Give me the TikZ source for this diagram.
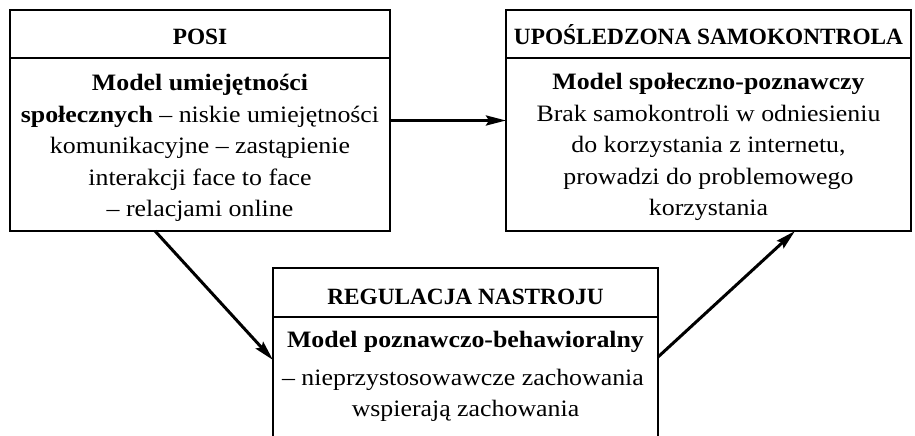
\documentclass[tikz,border=0pt]{standalone}
\usepackage{fontspec}
\setmainfont{Liberation Serif}
\newfontfamily\bodyfont{Liberation Serif}[FakeStretch=1.10]
\usetikzlibrary{arrows.meta,calc}
\begin{document}
\begin{tikzpicture}[x=1bp,y=-1bp,
  box/.style={draw, line width=2.8bp, inner sep=0pt, outer sep=0pt},
  rule/.style={line width=2.6bp},
  titletext/.style={anchor=base, inner sep=0pt, font=\fontsize{23.3bp}{27bp}\selectfont\bfseries},
  bodytext/.style={anchor=base, inner sep=0pt, font=\bodyfont\fontsize{23.5bp}{27bp}\selectfont},
  conn/.style={line width=3bp, -{Stealth[length=20bp,width=10bp,inset=3bp]}}]
\useasboundingbox (0,0) rectangle (915,436);
\clip (0,0) rectangle (915,436);

% boxes
\node[box, minimum width=380bp, minimum height=221bp] (posi) at (200,120.5) {};
\node[box, minimum width=405bp, minimum height=221bp] (usc) at (708.5,120.5) {};
\node[box, minimum width=385bp, minimum height=202bp] (reg) at (465.5,369) {};

% dividers
\draw[rule] (posi.west |- 0,58) -- (posi.east |- 0,58);
\draw[rule] (usc.west |- 0,58) -- (usc.east |- 0,58);
\draw[rule] (reg.west |- 0,317) -- (reg.east |- 0,317);

% titles
\node[titletext] (t1) at (200,45) {POSI};
\node[titletext] (t2) at (708.5,45) {UPOŚLEDZONA SAMOKONTROLA};
\node[titletext] (t3) at (465.5,305) {REGULACJA NASTROJU};

% left body
\node[bodytext] (a1) at (200,91) {\textbf{Model umiejętności}};
\node[bodytext] (a2) at (200,122.5) {\textbf{społecznych} – niskie umiejętności};
\node[bodytext] (a3) at (200,154) {komunikacyjne – zastąpienie};
\node[bodytext] (a4) at (200,185.5) {interakcji face to face};
\node[bodytext] (a5) at (200,217) {– relacjami online};

% right body
\node[bodytext] (b1) at (708.5,90) {\textbf{Model społeczno-poznawczy}};
\node[bodytext] (b2) at (708.5,121.5) {Brak samokontroli w odniesieniu};
\node[bodytext] (b3) at (708.5,153) {do korzystania z internetu,};
\node[bodytext] (b4) at (708.5,184.5) {prowadzi do problemowego};
\node[bodytext] (b5) at (708.5,216) {korzystania};

% bottom body
\node[bodytext] (c1) at (465.5,348) {\textbf{Model poznawczo-behawioralny}};
\node[bodytext] (c2) at (463,386) {– nieprzystosowawcze zachowania};
\node[bodytext] (c3) at (465.5,416) {wspierają zachowania};

% connectors
\draw[conn] (posi.east) -- (usc.west);
\draw[conn] ([xshift=145bp]posi.south west) -- ([yshift=-92bp]reg.north west);
\draw[conn] ([yshift=-89bp]reg.north east) -- ([xshift=289bp]usc.south west);
\end{tikzpicture}
\end{document}
